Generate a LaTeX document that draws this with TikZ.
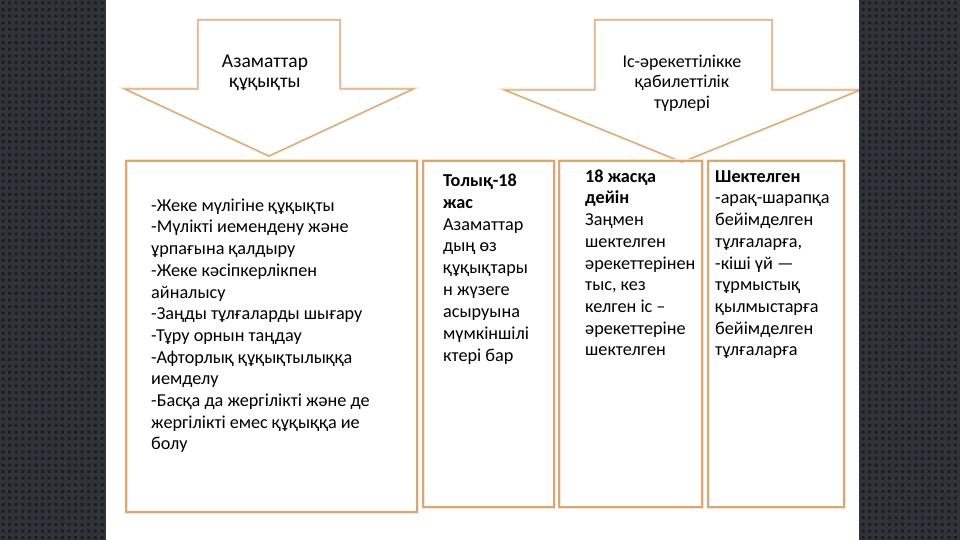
\documentclass[tikz,border=0pt]{standalone}
\usepackage{fontspec}
\setmainfont{Carlito}
\definecolor{edge}{RGB}{218,166,118}
\definecolor{glow}{RGB}{250,228,205}
\definecolor{panel}{RGB}{48,51,58}
\definecolor{paneldot}{RGB}{28,30,35}
\begin{document}
\begin{tikzpicture}[x=1pt,y=-1pt,
  outline/.style={draw=glow,line width=3pt,line join=miter},
  outlinein/.style={draw=edge,line width=1.3pt,line join=miter},
  txt/.style={font=\fontsize{18.2}{21.7}\selectfont,align=left,inner sep=0pt,anchor=north west},
  txtb/.style={font=\fontsize{18.2}{21.9}\selectfont,align=left,inner sep=0pt,anchor=north west},
  arrowtxt/.style={font=\fontsize{18}{20.8}\selectfont,align=center,inner sep=0pt,anchor=north}]
\useasboundingbox (0,0) rectangle (960,540);
\fill[white] (0,0) rectangle (960,540);
% block arrows
\foreach \pass in {outline,outlinein}{
  \draw[\pass,fill=white] (198,20) -- (340,20) -- (340,89) -- (413,89) -- (269,156) -- (125,89) -- (198,89) -- cycle;
  \draw[\pass,fill=white] (595,20) -- (772,20) -- (772,90) -- (860,90) -- (682,162) -- (505,90) -- (595,90) -- cycle;
}
\node[arrowtxt,font=\fontsize{19.5}{20.3}\selectfont] (a1) at (265,67-14.21) {\strut Азаматтар\\құқықты};
\node[arrowtxt] (a2) at (682,67-14.56) {\strut Іс-әрекеттілікке\\қабилеттілік\\түрлері};
% boxes
\foreach \pass in {outline,outlinein}{
  \draw[\pass] (126,161) rectangle (417,512);
  \draw[\pass] (423,161) rectangle (554,507);
  \draw[\pass] (559,161) rectangle (702,507);
  \draw[\pass] (708,161) rectangle (844,507);
}
\node[txt] (t1) at (151,211-15.19) {\strut -Жеке мүлігіне құқықты\\-Мүлікті иемендену және\\ұрпағына қалдыру\\-Жеке кәсіпкерлікпен\\айналысу\\-Заңды тұлғаларды шығару\\-Тұру орнын таңдау\\-Афторлық құқықтылыққа\\иемделу\\-Басқа да жергілікті және де\\жергілікті емес құқыққа ие\\болу};
\node[txtb] (t2) at (443,186-15.33) {\strut\textbf{Толық-18}\\\textbf{жас}\\Азаматтар\\дың өз\\құқықтары\\н жүзеге\\асыруына\\мүмкіншілі\\ктері бар};
\node[txt] (t3) at (585,182-15.19) {\strut\textbf{18 жасқа}\\\textbf{дейін}\\Заңмен\\шектелген\\әрекеттерінен\\тыс, кез\\келген іс –\\әрекеттеріне\\шектелген};
\node[txt] (t4) at (715,182-15.19) {\strut\textbf{Шектелген}\\-арақ-шарапқа\\бейімделген\\тұлғаларға,\\-кіші үй —\\тұрмыстық\\қылмыстарға\\бейімделген\\тұлғаларға};
% dark side panels
\fill[panel] (0,0) rectangle (106,540);
\fill[panel] (859,0) rectangle (960,540);
\fill[paneldot] \foreach \i in {0,...,15}{\foreach \j in {0,...,82}{(\i*6.6+1.5,\j*6.6+1.5) rectangle ++(3,3)}};
\fill[paneldot] \foreach \i in {0,...,14}{\foreach \j in {0,...,82}{(\i*6.6+861.5,\j*6.6+1.5) rectangle ++(3,3)}};
\end{tikzpicture}
\end{document}
